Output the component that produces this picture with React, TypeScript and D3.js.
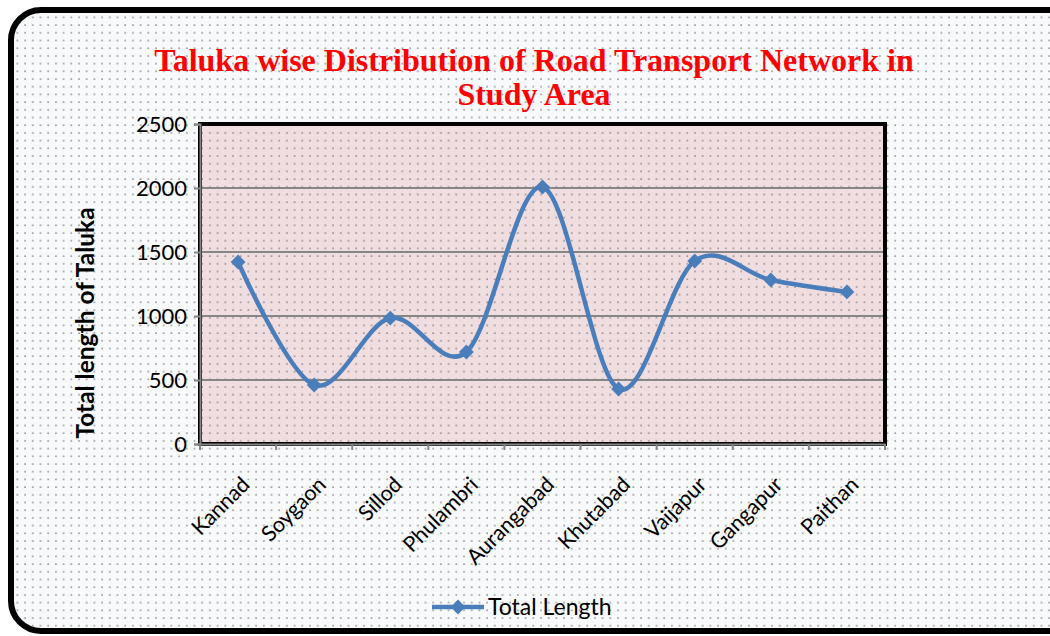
import { useRef, useEffect } from 'react';
import * as d3 from 'd3';

const talukas = ['Kannad', 'Soygaon', 'Sillod', 'Phulambri', 'Aurangabad', 'Khutabad', 'Vaijapur', 'Gangapur', 'Paithan'];
const totalLength = [1422, 461, 984, 719, 2008, 430, 1430, 1281, 1188];
const yTicks = [0, 500, 1000, 1500, 2000, 2500];

const W = 1050;
const H = 636;
const plot = { left: 200, right: 885, top: 124, bottom: 444 };
const lineColor = '#4a7ebb';

export default function App() {
  const svgRef = useRef<SVGSVGElement>(null);

  useEffect(() => {
    if (!svgRef.current) return;
    const svg = d3.select(svgRef.current);
    svg.selectAll('*').remove();

    const defs = svg.append('defs');
    // dotted fills
    const dots = (id: string, bg: string) => {
      const p = defs.append('pattern')
        .attr('id', id)
        .attr('patternUnits', 'userSpaceOnUse')
        .attr('width', 7.7)
        .attr('height', 7.7);
      p.append('rect').attr('width', 7.7).attr('height', 7.7).attr('fill', bg);
      p.append('circle').attr('cx', 2).attr('cy', 2).attr('r', 0.85).attr('fill', '#7d7d7d');
    };
    dots('bgDots', '#f8f9fa');
    dots('plotDots', '#f0dde0');

    // outer frame
    svg.append('rect')
      .attr('x', 11).attr('y', 10)
      .attr('width', W + 20).attr('height', H - 15)
      .attr('rx', 30)
      .attr('fill', 'url(#bgDots)')
      .attr('stroke', '#000')
      .attr('stroke-width', 6);

    const x = d3.scaleBand().domain(talukas).range([plot.left, plot.right]);
    const y = d3.scaleLinear().domain([0, 2500]).range([plot.bottom, plot.top]);

    svg.append('rect')
      .attr('x', plot.left).attr('y', plot.top)
      .attr('width', plot.right - plot.left).attr('height', plot.bottom - plot.top)
      .attr('fill', 'url(#plotDots)');

    // gridlines
    svg.append('g').selectAll('line')
      .data(yTicks.slice(1, -1))
      .join('line')
      .attr('x1', plot.left).attr('x2', plot.right)
      .attr('y1', d => y(d)).attr('y2', d => y(d))
      .attr('stroke', '#868686').attr('stroke-width', 2);

    // plot border
    svg.append('rect')
      .attr('x', plot.left).attr('y', plot.top)
      .attr('width', plot.right - plot.left).attr('height', plot.bottom - plot.top)
      .attr('fill', 'none')
      .attr('stroke', '#000')
      .attr('stroke-width', 4);

    const font = 'Lato, "Open Sans", sans-serif';

    // y axis
    const yAxis = svg.append('g')
      .attr('transform', `translate(${plot.left},0)`)
      .call(d3.axisLeft(y).tickValues(yTicks).tickFormat(d3.format('d')).tickSize(6).tickPadding(7));
    yAxis.select('.domain').attr('stroke', '#868686').attr('stroke-width', 2);
    yAxis.selectAll('.tick line').attr('stroke', '#868686').attr('stroke-width', 2);
    yAxis.selectAll('.tick text')
      .attr('fill', '#000').attr('font-size', 22).attr('font-family', font);

    // x axis
    const xAxis = svg.append('g')
      .attr('transform', `translate(0,${plot.bottom})`)
      .call(d3.axisBottom(x).tickSize(0).tickFormat(() => ''));
    xAxis.select('.domain').attr('stroke', '#868686').attr('stroke-width', 2);
    const bounds = [...talukas.map(t => x(t) as number), plot.right];
    svg.append('g').selectAll('line')
      .data(bounds)
      .join('line')
      .attr('x1', d => d).attr('x2', d => d)
      .attr('y1', plot.bottom).attr('y2', plot.bottom + 6)
      .attr('stroke', '#868686').attr('stroke-width', 2);

    svg.append('g').selectAll('text')
      .data(talukas)
      .join('text')
      .attr('transform', d => `translate(${(x(d) as number) + x.bandwidth() / 2 + 13},${plot.bottom + 42}) rotate(-45)`)
      .attr('text-anchor', 'end')
      .attr('font-size', 21.5)
      .attr('font-family', font)
      .attr('fill', '#000')
      .text(d => d);

    // y label
    svg.append('text')
      .attr('transform', 'translate(94,323) rotate(-90)')
      .attr('text-anchor', 'middle')
      .attr('font-size', 24.5)
      .attr('font-weight', 'bold')
      .attr('font-family', font)
      .attr('fill', '#000')
      .text('Total length of Taluka');

    // title
    const title = svg.append('text')
      .attr('text-anchor', 'middle')
      .attr('font-size', 32)
      .attr('font-weight', 'bold')
      .attr('font-family', '"Liberation Serif", "DejaVu Serif", serif')
      .attr('fill', '#ff0000');
    title.append('tspan').attr('x', 534).attr('y', 71)
      .text('Taluka wise Distribution of Road Transport Network in');
    title.append('tspan').attr('x', 534).attr('y', 105).text('Study Area');

    // series
    const pts = talukas.map((t, i) => [(x(t) as number) + x.bandwidth() / 2, y(totalLength[i])] as [number, number]);
    const line = d3.line().curve(d3.curveCardinal.tension(0));
    svg.append('path')
      .attr('d', line(pts))
      .attr('fill', 'none')
      .attr('stroke', lineColor)
      .attr('stroke-width', 4.5);

    const diamond = d3.symbol(d3.symbolSquare, 110);
    svg.append('g').selectAll('path')
      .data(pts)
      .join('path')
      .attr('transform', d => `translate(${d[0]},${d[1]}) rotate(45)`)
      .attr('d', diamond())
      .attr('fill', lineColor);

    // legend
    const lg = svg.append('g').attr('transform', 'translate(432,607)');
    lg.append('line').attr('x1', 0).attr('x2', 52).attr('y1', 0).attr('y2', 0)
      .attr('stroke', lineColor).attr('stroke-width', 4.5);
    lg.append('path').attr('transform', 'translate(26,0) rotate(45)').attr('d', diamond()).attr('fill', lineColor);
    lg.append('text').attr('x', 56).attr('y', 8)
      .attr('font-size', 23).attr('font-family', font).attr('fill', '#000')
      .text('Total Length');
  }, []);

  return (
    <svg ref={svgRef} width={W} height={H} style={{ position: 'absolute', left: 0, top: 0, background: '#fff' }} />
  );
}
